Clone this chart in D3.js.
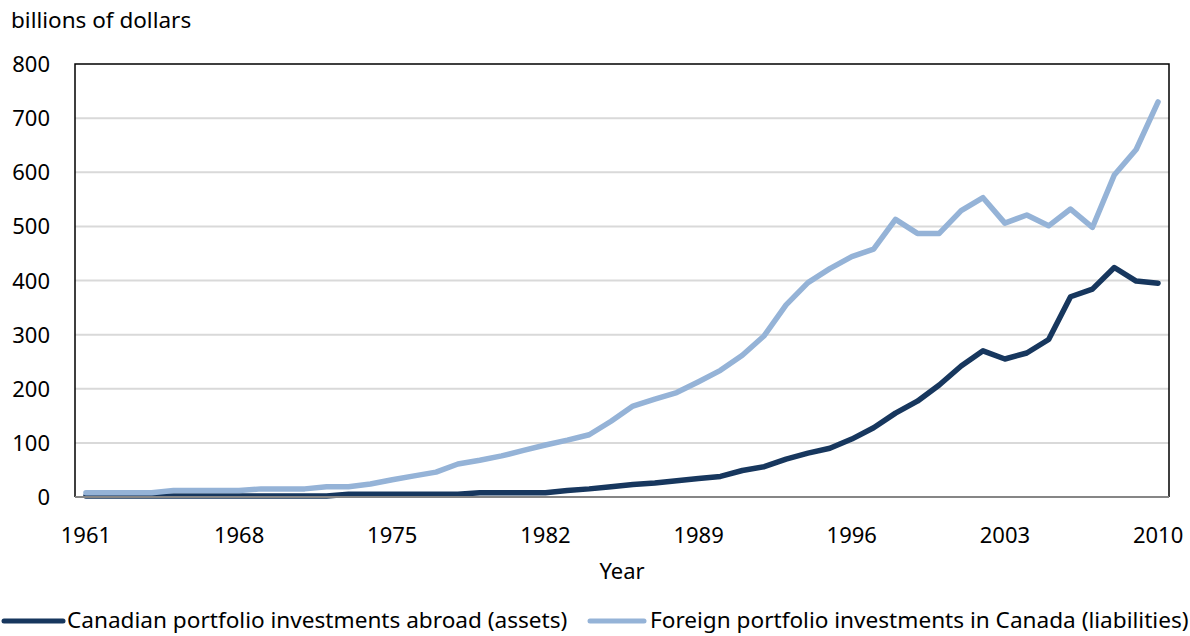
<!DOCTYPE html>
<html>
<head>
<meta charset="utf-8">
<script src="https://cdn.jsdelivr.net/npm/d3@7"></script>
<style>
  body { margin: 0; background: #fff; }
  text { font-family: "Noto Sans", "Open Sans", sans-serif; fill: #000; }
</style>
</head>
<body>
<div id="chart"></div>
<script>
// Years 1961..2010
const years = d3.range(1961, 2011);

// Canadian portfolio investments abroad (assets), billions of dollars
const assets = [
  2, 2, 2, 2, 2, 2, 2, 2, 2, 2,
  2, 2, 5, 5, 5, 5, 5, 5, 8, 8,
  8, 8, 12, 15, 19, 23, 26, 30, 34, 38,
  49, 56, 70, 81, 90, 107, 128, 155, 177, 207,
  242, 270, 255, 266, 291, 370, 384, 424, 399, 395
];

// Foreign portfolio investments in Canada (liabilities), billions of dollars
const liabilities = [
  8, 8, 8, 8, 12, 12, 12, 12, 15, 15,
  15, 19, 19, 24, 32, 39, 46, 61, 68, 76,
  86, 96, 105, 115, 140, 168, 181, 193, 213, 234,
  262, 298, 355, 396, 422, 444, 458, 513, 487, 487,
  529, 553, 506, 521, 501, 532, 498, 595, 642, 730
];

const xTickYears = [1961, 1968, 1975, 1982, 1989, 1996, 2003, 2010];
const yTicks = [0, 100, 200, 300, 400, 500, 600, 700, 800];

const seriesNames = [
  "Canadian portfolio investments abroad (assets)",
  "Foreign portfolio investments  in Canada (liabilities)"
];
const seriesColors = ["#17375e", "#95b3d7"];

const width = 1190, height = 636;
const margin = { top: 64, right: 21, bottom: 139, left: 75 };

const svg = d3.select("#chart").append("svg")
  .attr("width", width)
  .attr("height", height);

const x = d3.scalePoint()
  .domain(years)
  .range([margin.left, width - margin.right])
  .padding(0.5);

const y = d3.scaleLinear()
  .domain([0, 800])
  .range([height - margin.bottom, margin.top]);

// gridlines
svg.append("g")
  .selectAll("line")
  .data(yTicks.filter(d => d > 0 && d < 800))
  .join("line")
  .attr("x1", margin.left)
  .attr("x2", width - margin.right)
  .attr("y1", d => y(d))
  .attr("y2", d => y(d))
  .attr("stroke", "#d9d9d9")
  .attr("stroke-width", 2);

// plot frame (left, top, right)
svg.append("path")
  .attr("d", `M${margin.left},${y(0)} V${y(800)} H${width - margin.right} V${y(0)}`)
  .attr("fill", "none")
  .attr("stroke", "#000")
  .attr("stroke-width", 1.5);

// y labels
svg.append("g")
  .selectAll("text")
  .data(yTicks)
  .join("text")
  .attr("x", 50)
  .attr("y", d => y(d) + 8)
  .attr("text-anchor", "end")
  .style("font-size", "22px")
  .text(d => d);

// x labels
svg.append("g")
  .selectAll("text")
  .data(xTickYears)
  .join("text")
  .attr("x", d => x(d))
  .attr("y", 543)
  .attr("text-anchor", "middle")
  .style("font-size", "22px")
  .text(d => d);

// lines
const line = d3.line()
  .x((d, i) => x(years[i]))
  .y(d => y(d));

[assets, liabilities].forEach((vals, i) => {
  svg.append("path")
    .datum(vals)
    .attr("fill", "none")
    .attr("stroke", seriesColors[i])
    .attr("stroke-width", 5.5)
    .attr("stroke-linejoin", "round")
    .attr("stroke-linecap", "round")
    .attr("d", line);
});

// x axis line
svg.append("line")
  .attr("x1", margin.left)
  .attr("x2", width - margin.right)
  .attr("y1", y(0))
  .attr("y2", y(0))
  .attr("stroke", "#868686")
  .attr("stroke-width", 2);

// axis titles
svg.append("text")
  .attr("x", 11)
  .attr("y", 28)
  .style("font-size", "22.5px")
  .text("billions of dollars");

svg.append("text")
  .attr("x", (margin.left + width - margin.right) / 2)
  .attr("y", 579)
  .attr("text-anchor", "middle")
  .style("font-size", "22px")
  .text("Year");

// legend
const legendItems = [
  { x0: 4, x1: 63, tx: 67 },
  { x0: 590, x1: 644, tx: 650 }
];
legendItems.forEach((d, i) => {
  svg.append("line")
    .attr("x1", d.x0).attr("x2", d.x1)
    .attr("y1", 621).attr("y2", 621)
    .attr("stroke", seriesColors[i])
    .attr("stroke-width", 5)
    .attr("stroke-linecap", "round");
  svg.append("text")
    .attr("x", d.tx)
    .attr("y", 628)
    .style("font-size", "22.6px")
    .text(seriesNames[i]);
});
</script>
</body>
</html>
